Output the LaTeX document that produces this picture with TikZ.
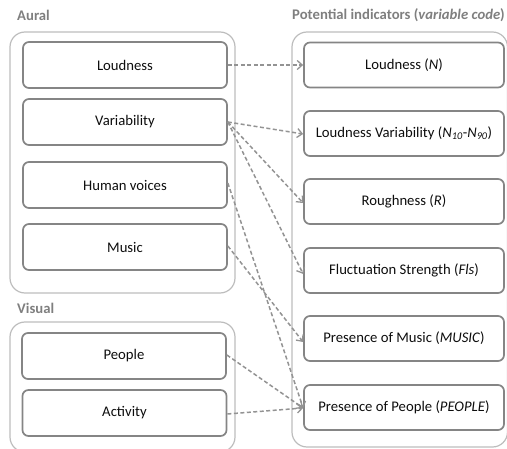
\documentclass[tikz,border=0pt]{standalone}
\usepackage{fontspec}
\setmainfont{Carlito}
\usetikzlibrary{arrows.meta}
\definecolor{outerc}{HTML}{BDBDBD}
\definecolor{innerc}{HTML}{858585}
\definecolor{arrc}{HTML}{939393}
\definecolor{labc}{HTML}{7F7F7F}
\definecolor{txtc}{HTML}{0D0D0D}
\begin{document}
\begin{tikzpicture}[x=1pt,y=-1pt,
  outerbox/.style={draw=outerc,line width=1.2pt,rounded corners=15pt,inner sep=0pt},
  lbox/.style={draw=innerc,line width=1.7pt,rounded corners=6pt,minimum width=204pt,minimum height=46pt,inner sep=0pt,font=\fontsize{14.7}{17}\selectfont,text=txtc},
  rbox/.style={lbox,minimum width=200pt,minimum height=45pt},
  grouplab/.style={font=\fontsize{14.7}{17}\selectfont\bfseries,text=labc,inner sep=0pt},
  link/.style={draw=arrc,line width=1.5pt,dash pattern=on 4pt off 2.5pt,-{Straight Barb[length=5pt,width=9pt,line width=1.3pt]}}
]
\useasboundingbox (0,0) rectangle (507,449);
% outer group boxes
\draw[outerbox] (10,32) rectangle (235,293);
\draw[outerbox] (10,322) rectangle (235,452);
\draw[outerbox] (292,32) rectangle (507.5,447);
% group labels
\node[grouplab,anchor=west] (laural) at (17,15) {Aural};
\node[grouplab,anchor=west] (lvisual) at (17,308) {Visual};
\node[grouplab,anchor=east] (lpot) at (505,15) {Potential indicators (\textit{variable code})};
% left boxes
\node[lbox] (loud) at (125,65) {Loudness};
\node[lbox] (var) at (125,122) {Variability};
\node[lbox] (hv) at (125,185) {Human voices};
\node[lbox] (mus) at (125,247) {Music};
\node[lbox] (peo) at (124,356) {People};
\node[lbox] (act) at (124.5,413) {Activity};
% right boxes
\node[rbox] (rN) at (404,65) {Loudness (\textit{N})};
\node[rbox] (rLV) at (404,133.5) {Loudness Variability (\textit{N}\textsubscript{\textit{10}}-\textit{N}\textsubscript{\textit{90}})};
\node[rbox] (rR) at (404,201.5) {Roughness (\textit{R})};
\node[rbox] (rF) at (404,270.5) {Fluctuation Strength (\textit{Fls})};
\node[rbox] (rM) at (404,338.5) {Presence of Music (\textit{MUSIC})};
\node[rbox] (rP) at (404,407.5) {Presence of People (\textit{PEOPLE})};
% links
\draw[link] (loud.east) -- (rN.west);
\draw[link] (var.east) -- ([yshift=-0.5pt]rLV.west);
\draw[link] (var.east) -- ([yshift=-1.5pt]rR.west);
\draw[link] (var.east) -- ([yshift=-3.5pt]rF.west);
\draw[link] ([yshift=2pt]hv.east) -- ([yshift=-0.5pt]rP.west);
\draw[link] ([yshift=1pt]mus.east) -- ([yshift=-3.5pt]rM.west);
\draw[link] ([yshift=1pt]peo.east) -- ([yshift=-0.5pt]rP.west);
\draw[link] ([yshift=-1pt]act.east) -- ([yshift=-0.5pt]rP.west);
\end{tikzpicture}
\end{document}
